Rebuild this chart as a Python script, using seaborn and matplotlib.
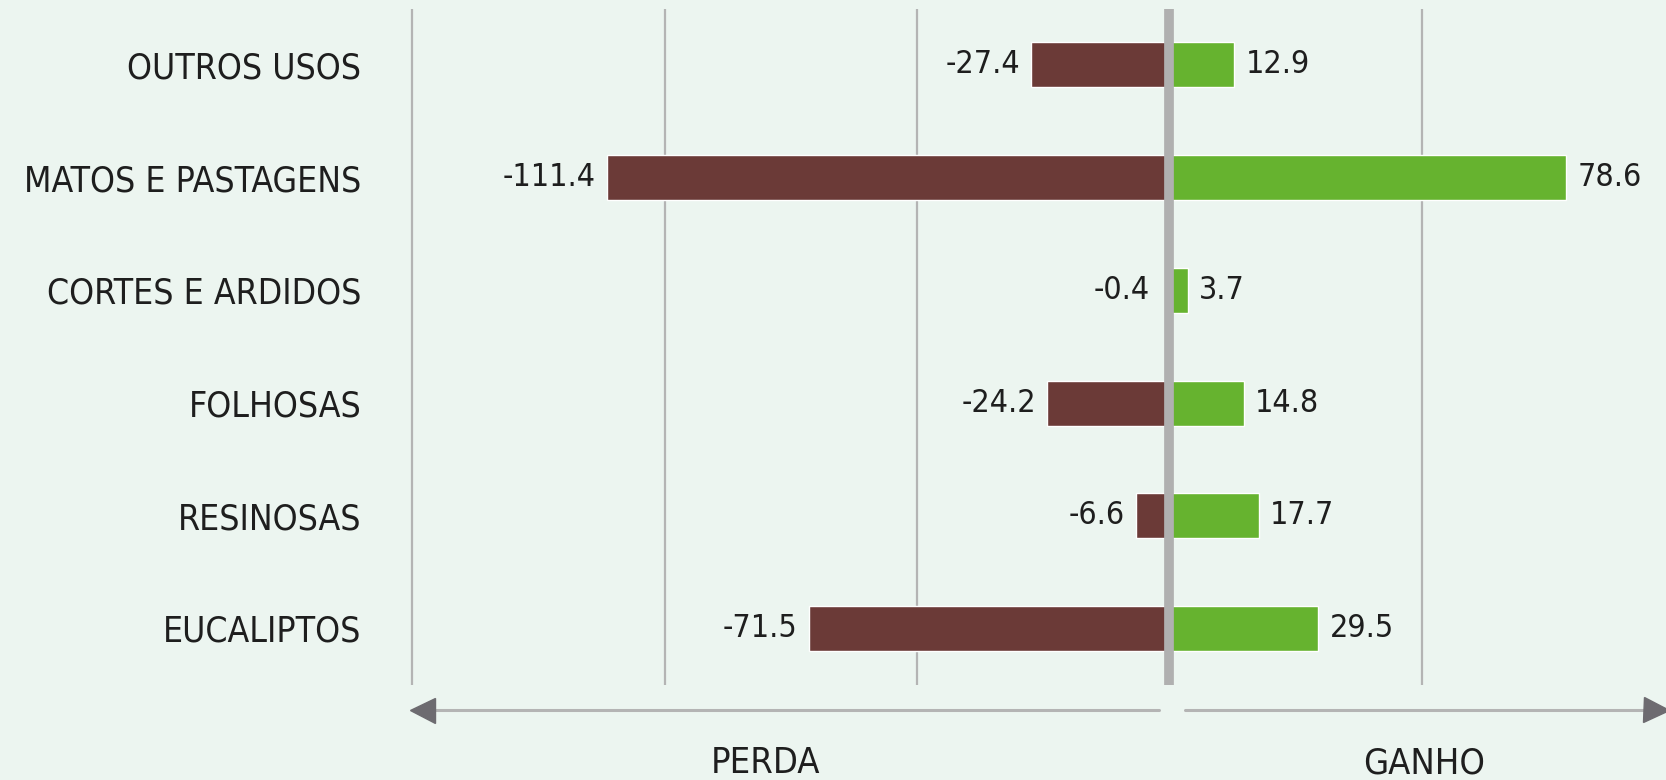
import pandas as pd
import seaborn as sns
import matplotlib.pyplot as plt
import matplotlib.transforms as mtransforms

categorias = ['OUTROS USOS', 'MATOS E PASTAGENS', 'CORTES E ARDIDOS',
              'FOLHOSAS', 'RESINOSAS', 'EUCALIPTOS']
perda = [-27.4, -111.4, -0.4, -24.2, -6.6, -71.5]
ganho = [12.9, 78.6, 3.7, 14.8, 17.7, 29.5]
grelha = [-150, -100, -50, 50]

cor_fundo = '#ECF5F0'
cor_perda = '#6B3A37'
cor_ganho = '#66B32F'
cor_grelha = '#B4B4B4'
cor_texto = '#1E1E1E'

sns.set_theme(style='white')
plt.rcParams['font.family'] = ['DejaVu Sans']
plt.rcParams['font.stretch'] = 'condensed'

df = pd.DataFrame({'categoria': categorias, 'perda': perda, 'ganho': ganho})

fig = plt.figure(figsize=(16.66, 7.8), dpi=100, facecolor=cor_fundo)
ax = fig.add_axes([0.246, 0.122, 0.754, 0.867])
ax.set_facecolor(cor_fundo)

sns.barplot(data=df, x='perda', y='categoria', color=cor_perda, saturation=1,
            width=0.4, orient='h', ax=ax, zorder=2)
sns.barplot(data=df, x='ganho', y='categoria', color=cor_ganho, saturation=1,
            width=0.4, orient='h', ax=ax, zorder=2)

for i, (p, g) in enumerate(zip(perda, ganho)):
    ax.annotate(f'{p:.1f}', xy=(p, i), xytext=(-8 if p < -1 else -13, 0),
                textcoords='offset points', ha='right', va='center',
                fontsize=23, color=cor_texto)
    ax.annotate(f'{g:.1f}', xy=(g, i), xytext=(8, 0),
                textcoords='offset points', ha='left', va='center',
                fontsize=23, color=cor_texto)

for x in grelha:
    ax.axvline(x, color=cor_grelha, lw=1.6, zorder=1)
ax.axvline(0, color='#B0B0B0', lw=7, zorder=3)

ax.set_xlim(-150.5, 98.4)
ax.set_ylim(5.5, -0.5)
ax.set_xticks([])
ax.set_xlabel('')
ax.set_ylabel('')
ax.tick_params(axis='y', length=0, pad=35, labelsize=25.5, labelcolor=cor_texto)
for s in ax.spines.values():
    s.set_visible(False)

# setas PERDA / GANHO
trans = mtransforms.blended_transform_factory(ax.transData, ax.transAxes)
ya = -0.037
ax.plot([-147, -2], [ya, ya], color=cor_grelha, lw=2.2, transform=trans, clip_on=False)
ax.plot([3, 96], [ya, ya], color=cor_grelha, lw=2.2, transform=trans, clip_on=False)
ax.plot([-148], [ya], marker='<', ms=18, color='#6D6B70', transform=trans, clip_on=False)
ax.plot([96.5], [ya], marker='>', ms=18, color='#6D6B70', transform=trans, clip_on=False)
ax.text(-80, -0.116, 'PERDA', transform=trans, ha='center', va='center',
        fontsize=26, color=cor_texto)
ax.text(50.5, -0.116, 'GANHO', transform=trans, ha='center', va='center',
        fontsize=26, color=cor_texto)

fig.savefig('out.png', dpi=100, facecolor=cor_fundo)
